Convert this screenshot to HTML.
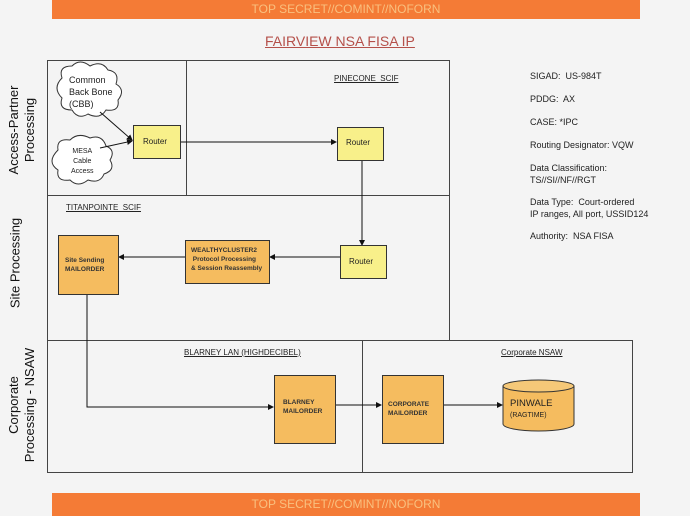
<!DOCTYPE html>
<html><head><style>
body{margin:0;width:690px;height:516px;background:#f4f4f4;position:relative;overflow:hidden;font-family:"Liberation Sans",sans-serif}
.a{position:absolute}
.bar{position:absolute;left:52px;width:588px;background:#f47b36;color:#f9c07f;font-size:12px;text-align:center;line-height:19px}
.t{position:absolute;font-size:9px;color:#222;white-space:nowrap}
.b{font-weight:bold;color:#333}
.r{font-size:9px;color:#222;line-height:12px}
</style></head><body>
<div class="bar" style="top:0;height:19px">TOP SECRET//COMINT//NOFORN</div>
<div class="bar" style="top:493px;height:23px;line-height:23px">TOP SECRET//COMINT//NOFORN</div>
<div class="a" style="left:265px;top:33px;font-size:14px;color:#b5504a;text-decoration:underline">FAIRVIEW NSA FISA IP</div>
<svg class="a" style="left:0;top:0" width="690" height="516">
<defs><marker id="m" markerWidth="6" markerHeight="6" refX="5" refY="3" orient="auto"><path d="M0,0L6,3L0,6z" fill="#111"/></marker></defs>
<g fill="none" stroke="#444" stroke-width="1">
<rect x="47.5" y="60.5" width="402" height="280"/>
<line x1="47" y1="195.5" x2="449" y2="195.5"/>
<line x1="186.5" y1="60" x2="186.5" y2="195"/>
<rect x="47.5" y="340.5" width="585" height="132"/>
<line x1="362.5" y1="340" x2="362.5" y2="472"/>
</g>
<g stroke="#333" fill="#fff">
<path d="M62,78 q-4,-12 10,-12 q8,-8 18,0 q12,-6 18,4 q12,2 8,14 q10,6 2,16 q2,12 -12,10 q-6,10 -18,4 q-10,6 -16,-4 q-14,0 -10,-12 q-10,-10 0,-20z"/>
<path d="M58,150 q-2,-12 12,-10 q8,-8 20,-2 q12,-4 16,8 q10,4 4,14 q6,10 -6,14 q-4,10 -16,6 q-10,8 -18,0 q-14,2 -12,-10 q-12,-8 0,-20z"/>
</g>
<g stroke="#111" fill="none" stroke-width="1">
<line x1="100" y1="112" x2="132" y2="140" marker-end="url(#m)"/>
<line x1="100" y1="148" x2="132" y2="141" marker-end="url(#m)"/>
<line x1="180" y1="142" x2="336" y2="142" marker-end="url(#m)"/>
<line x1="362" y1="160" x2="362" y2="245" marker-end="url(#m)"/>
<line x1="340" y1="257" x2="270" y2="257" marker-end="url(#m)"/>
<line x1="185" y1="257" x2="119" y2="257" marker-end="url(#m)"/>
<polyline points="87,294 87,407 273,407" marker-end="url(#m)"/>
<line x1="335" y1="405" x2="381" y2="405" marker-end="url(#m)"/>
<line x1="443" y1="405" x2="502" y2="405" marker-end="url(#m)"/>
</g>
<g stroke="#333" stroke-width="1">
<rect x="133.5" y="125.5" width="47" height="33" fill="#f8f08a"/>
<rect x="337.5" y="127.5" width="46" height="33" fill="#f8f08a"/>
<rect x="340.5" y="245.5" width="46" height="33" fill="#f8f08a"/>
<rect x="185.5" y="240.5" width="84" height="43" fill="#f5bc5f"/>
<rect x="58.5" y="235.5" width="60" height="59" fill="#f5bc5f"/>
<rect x="274.5" y="375.5" width="61" height="68" fill="#f5bc5f"/>
<rect x="382.5" y="375.5" width="61" height="68" fill="#f5bc5f"/>
<path d="M503,386 v38 a35.5,7 0 0 0 71,0 v-38" fill="#f5bc5f"/>
<ellipse cx="538.5" cy="386" rx="35.5" ry="6" fill="#f5c878"/>
</g>
</svg>
<div class="t" style="left:69px;top:74px;font-size:9px;line-height:12px">Common<br>Back Bone<br>(CBB)</div>
<div class="t" style="left:71px;top:147px;font-size:7px;line-height:10px;text-align:center">MESA<br>Cable<br>Access</div>
<div class="t" style="left:143px;top:137px;font-size:8px">Router</div>
<div class="t" style="left:346px;top:138px;font-size:8px">Router</div>
<div class="t" style="left:349px;top:257px;font-size:8px">Router</div>
<div class="t b" style="left:191px;top:246px;font-size:6.5px;line-height:9px">WEALTHYCLUSTER2<br>&nbsp;Protocol Processing<br>&amp; Session Reassembly</div>
<div class="t b" style="left:65px;top:256px;font-size:6.5px;line-height:9px">Site Sending<br>MAILORDER</div>
<div class="t b" style="left:283px;top:398px;font-size:6.5px;line-height:9px">BLARNEY<br>MAILORDER</div>
<div class="t b" style="left:388px;top:400px;font-size:6.5px;line-height:9px">CORPORATE<br>MAILORDER</div>
<div class="t" style="left:510px;top:398px;font-size:9.5px">PINWALE</div>
<div class="t" style="left:510px;top:412px;font-size:7px">(RAGTIME)</div>
<div class="t" style="left:334px;top:74px;font-size:8px;text-decoration:underline">PINECONE&nbsp; SCIF</div>
<div class="t" style="left:66px;top:203px;font-size:8px;text-decoration:underline">TITANPOINTE&nbsp; SCIF</div>
<div class="t" style="left:184px;top:348px;font-size:8px;text-decoration:underline">BLARNEY LAN (HIGHDECIBEL)</div>
<div class="t" style="left:501px;top:348px;font-size:8px;text-decoration:underline">Corporate NSAW</div>
<div class="a r" style="left:530px;top:70px">SIGAD:&nbsp; US-984T</div>
<div class="a r" style="left:530px;top:93px">PDDG:&nbsp; AX</div>
<div class="a r" style="left:530px;top:116px">CASE: *IPC</div>
<div class="a r" style="left:530px;top:139px">Routing Designator: VQW</div>
<div class="a r" style="left:530px;top:162px">Data Classification:<br>TS//SI//NF//RGT</div>
<div class="a r" style="left:530px;top:196px">Data Type:&nbsp; Court-ordered<br>IP ranges, All port, USSID124</div>
<div class="a r" style="left:530px;top:230px">Authority:&nbsp; NSA FISA</div>
<div class="a" style="left:22px;top:130px;transform:translate(-50%,-50%) rotate(-90deg);font-size:13px;line-height:16px;text-align:center;white-space:nowrap;color:#111">Access-Partner<br>Processing</div>
<div class="a" style="left:15px;top:263px;transform:translate(-50%,-50%) rotate(-90deg);font-size:13px;white-space:nowrap;color:#111">Site Processing</div>
<div class="a" style="left:22px;top:405px;transform:translate(-50%,-50%) rotate(-90deg);font-size:13px;line-height:16px;text-align:center;white-space:nowrap;color:#111">Corporate<br>Processing - NSAW</div>
</body></html>
